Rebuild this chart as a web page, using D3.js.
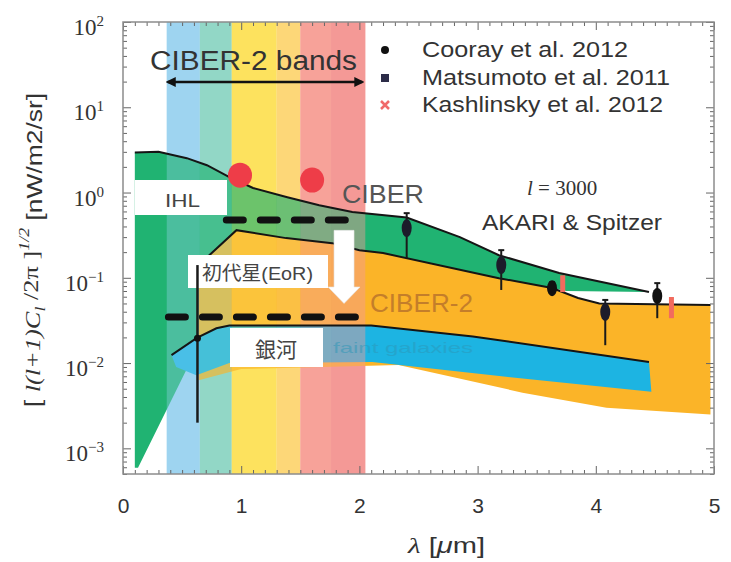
<!DOCTYPE html>
<html>
<head>
<meta charset="utf-8">
<script src="https://cdn.jsdelivr.net/npm/d3@7"></script>
<style>
body { margin: 0; background: #fff; }
svg { display: block; }
</style>
</head>
<body>
<script>
// axis ticks
const lambdaTicks = [0, 1, 2, 3, 4, 5];
const powerTicks = [1e-3, 1e-2, 1e-1, 1, 10, 100];
const powerExp = ["\u22123", "\u22122", "\u22121", "0", "1", "2"];

// CIBER-2 wavelength bands [from, to] in micron
const bandRanges = [[0.37, 0.65], [0.65, 0.92], [0.92, 1.30], [1.30, 1.50], [1.50, 1.76], [1.76, 2.05]];
const bandFill = ["#9fd4f0", "#92d8c6", "#fde25e", "#fdd878", "#f7a29a", "#f59a96"];
const bandTint = [0.35, 0.35, 0.35, 0.35, 0.45, 0.45];

// IHL model (green)
const ihlTop = [[0.10, 2.95], [0.30, 3.0], [0.54, 2.53], [0.71, 2.09], [0.90, 1.52], [1.10, 1.13], [1.39, 0.88],
                [1.66, 0.71], [1.94, 0.59], [2.17, 0.55], [2.40, 0.51], [2.85, 0.30], [3.18, 0.184], [3.69, 0.114], [4.45, 0.068]];
const ihlTail = [[4.45, 0.068], [3.75, 0.070], [3.63, 0.076]];
const ihlLeft = [[0.64, 0.0163], [0.127, 5.9e-4], [0.10, 5.9e-4]];

// first stars / EoR (orange)
const eorTop = [[0.64, 0.141], [0.96, 0.362], [1.38, 0.292], [1.77, 0.255], [2.0, 0.21], [2.2, 0.195], [3.18, 0.099],
                [3.63, 0.076], [3.85, 0.058], [4.03, 0.050], [4.97, 0.048]];
const eorBottom = [[4.97, 0.0025], [4.09, 0.0030], [3.38, 0.0045], [2.33, 0.0095], [1.00, 0.0085], [0.64, 0.0063]];

// faint galaxies (cyan)
const galTop = [[0.41, 0.0124], [0.625, 0.0197], [0.79, 0.0256], [0.90, 0.0275], [2.10, 0.0275], [2.96, 0.0205], [4.45, 0.0103]];
const galBottom = [[4.47, 0.0046], [3.24, 0.0069], [2.11, 0.0103], [0.90, 0.0100], [0.62, 0.0072], [0.45, 0.0090]];

// CIBER / CIBER-2 sensitivity levels and CIBER measurements
const ciberLevel = [[0.874, 0.475], [1.883, 0.475]];
const ciber2Level = [[0.384, 0.0346], [1.99, 0.0346]];
const ciberDots = [[0.99, 1.6], [1.60, 1.4]];

// measurements at l = 3000
const cooray = [{l: 3.63, v: 0.0756, lo: 0.0626, hi: 0.089}, {l: 4.52, v: 0.0612, lo: 0.0336, hi: 0.0866}];
const matsumoto = [{l: 2.40, v: 0.383, lo: 0.17, hi: 0.573}, {l: 3.20, v: 0.141, lo: 0.072, hi: 0.211},
                   {l: 4.08, v: 0.0397, lo: 0.0162, hi: 0.055}];
const kashlinsky = [{l: 3.72, v: 0.0866, lo: 0.068, hi: 0.107}, {l: 4.64, v: 0.0476, lo: 0.0336, hi: 0.0595}];
const opticalPoint = [{l: 0.63, v: 0.0196, lo: 0.002, hi: 0.141}];
const legendNames = ["Cooray et al. 2012", "Matsumoto et al. 2011", "Kashlinsky et al. 2012"];

const svg = d3.select("body").append("svg").attr("width", 731).attr("height", 562);

const x = d3.scaleLinear().domain([0, 5]).range([123, 714]);
const y = d3.scaleLog().domain([5e-4, 100]).range([474, 22]);
const plotTop = y.range()[1], plotBottom = y.range()[0];

const line = d3.line().x(d => x(d[0])).y(d => y(d[1]));
const area = pts => line(pts) + "Z";
const sans = "Liberation Sans, Arial, sans-serif";
const serif = "Liberation Serif, serif";

// bands underneath
svg.append("g").selectAll("rect").data(bandRanges).enter().append("rect")
   .attr("x", d => x(d[0])).attr("width", d => x(d[1]) - x(d[0]))
   .attr("y", plotTop).attr("height", plotBottom - plotTop)
   .style("fill", (d, i) => bandFill[i]);

// model regions
svg.append("path")
   .attr("d", area(ihlTop.concat(ihlTail.slice(1), eorTop.filter(d => d[0] < 3.63).reverse(), ihlLeft)))
   .style("fill", "#20b372");
svg.append("path").attr("d", area(eorTop.concat(eorBottom))).style("fill", "#fbb428");
svg.append("path").attr("d", area(galTop.concat(galBottom))).style("fill", "#1db4e2");

// bands tint the regions
svg.append("g").selectAll("rect").data(bandRanges).enter().append("rect")
   .attr("x", d => x(d[0])).attr("width", d => x(d[1]) - x(d[0]))
   .attr("y", plotTop).attr("height", plotBottom - plotTop)
   .style("fill", (d, i) => bandFill[i])
   .style("opacity", (d, i) => bandTint[i]);

const label = (tx, ty, len, size, color, family) =>
    svg.append("text").attr("x", tx).attr("y", ty).attr("textLength", len).attr("lengthAdjust", "spacingAndGlyphs")
       .style("font-family", family || sans).style("font-size", size + "px").style("fill", color);

label(342, 203, 82, 26, "#555").text("CIBER");
label(370, 312, 103, 25, "#c47e2a").text("CIBER-2");
label(333, 353, 140, 15, "#2c97b8").style("opacity", 0.5).text("faint galaxies");

// model boundary lines
[ihlTop, eorTop, galTop].forEach(pts => {
    svg.append("path").attr("d", line(pts))
       .style("fill", "none").style("stroke", "#151515").style("stroke-width", 2);
});

// sensitivity levels
[ciberLevel, ciber2Level].forEach(pts => {
    svg.append("path").attr("d", line(pts))
       .style("fill", "none").style("stroke", "#111").style("stroke-width", 7)
       .style("stroke-dasharray", "17 17").style("stroke-linecap", "round");
});

svg.selectAll(".ciberdot").data(ciberDots).enter().append("ellipse")
   .attr("class", "ciberdot")
   .attr("cx", d => x(d[0])).attr("cy", d => y(d[1]))
   .attr("rx", 12).attr("ry", 12.5)
   .style("fill", "#ee3d48");

// white arrow from CIBER to CIBER-2 level
const ax = x(1.87), ay0 = y(0.36), ay1 = y(0.078), ay2 = y(0.05);
svg.append("path")
   .attr("d", `M${ax - 10},${ay0}H${ax + 10}V${ay1}H${ax + 16}L${ax},${ay2}L${ax - 16},${ay1}H${ax - 10}Z`)
   .style("fill", "#fff").style("stroke", "#e4e4e4").style("stroke-width", 0.6);

// label boxes
const boxes = [
    {x: 135, y: 180, w: 92, h: 35, t: "IHL", tx: 165, ty: 207, fs: 19, tl: 35},
    {x: 188, y: 255, w: 140, h: 33, t: "初代星(EoR)", tx: 202, ty: 280, fs: 19, tl: 111},
    {x: 230, y: 328, w: 93, h: 39, t: "銀河", tx: 255, ty: 357, fs: 21, tl: 42}
];
boxes.forEach(b => {
    svg.append("rect").attr("x", b.x).attr("y", b.y).attr("width", b.w).attr("height", b.h).style("fill", "#fff");
    label(b.tx, b.ty, b.tl, b.fs, "#444", "Liberation Sans, 'Noto Sans CJK JP', sans-serif").text(b.t);
});

// error bars and points
const bars = (data, color, width) => {
    svg.append("g").selectAll("line").data(data).enter().append("line")
       .attr("x1", d => x(d.l)).attr("x2", d => x(d.l))
       .attr("y1", d => y(d.lo)).attr("y2", d => y(d.hi))
       .style("stroke", color).style("stroke-width", width);
};
bars(opticalPoint, "#1a1a1a", 2.5);
bars(matsumoto, "#1a1a1a", 2);
bars(cooray, "#1a1a1a", 2);
bars(kashlinsky, "#f26b5e", 5);
svg.append("g").selectAll("line").data(cooray.concat(matsumoto)).enter().append("line")
   .attr("x1", d => x(d.l) - 3).attr("x2", d => x(d.l) + 3)
   .attr("y1", d => y(d.hi)).attr("y2", d => y(d.hi))
   .style("stroke", "#1a1a1a").style("stroke-width", 2);
svg.append("g").selectAll("ellipse").data(matsumoto).enter().append("ellipse")
   .attr("cx", d => x(d.l)).attr("cy", d => y(d.v)).attr("rx", 5).attr("ry", 9)
   .style("fill", "#1c1c2a");
svg.append("g").selectAll("ellipse").data(cooray).enter().append("ellipse")
   .attr("cx", d => x(d.l)).attr("cy", d => y(d.v)).attr("rx", 5).attr("ry", 8)
   .style("fill", "#111");
svg.append("g").selectAll("circle").data(opticalPoint).enter().append("circle")
   .attr("cx", d => x(d.l)).attr("cy", d => y(d.v)).attr("r", 3.5)
   .style("fill", "#111");

// CIBER-2 bands annotation
svg.append("defs").append("marker")
   .attr("id", "head").attr("viewBox", "0 0 10 10").attr("refX", 8).attr("refY", 5)
   .attr("markerWidth", 4).attr("markerHeight", 4).attr("orient", "auto-start-reverse")
   .append("path").attr("d", "M0,0L10,5L0,10Z").style("fill", "#111");
svg.append("line")
   .attr("x1", x(bandRanges[0][0]) + 1).attr("x2", x(bandRanges[bandRanges.length - 1][1]) - 3)
   .attr("y1", 82).attr("y2", 82)
   .style("stroke", "#111").style("stroke-width", 2.5)
   .attr("marker-start", "url(#head)").attr("marker-end", "url(#head)");
label(150, 70, 207, 27, "#333").text("CIBER-2  bands");

// legend
const legendY = [50, 78, 105];
svg.append("circle").attr("cx", 385).attr("cy", legendY[0]).attr("r", 4).style("fill", "#111");
svg.append("rect").attr("x", 381).attr("y", legendY[1] - 4).attr("width", 8).attr("height", 8).style("fill", "#2c2c48");
svg.append("path").attr("d", `M381,${legendY[2] - 4}l8,8M389,${legendY[2] - 4}l-8,8`)
   .style("stroke", "#f06a6a").style("stroke-width", 2.5);
const legendLen = [206, 248, 241];
legendNames.forEach((n, i) => label(422, legendY[i] + 7, legendLen[i], 22, "#333").text(n));

const lt = svg.append("text").attr("x", 527).attr("y", 195)
   .style("font-family", serif).style("font-size", "21px").style("fill", "#333");
lt.append("tspan").style("font-style", "italic").text("l");
lt.append("tspan").text(" = 3000");
label(482, 230, 180, 22, "#333").text("AKARI & Spitzer");

// axes
const tickColor = "#666";
const styleAxis = g => {
    g.select(".domain").remove();
    g.selectAll(".tick line").style("stroke", tickColor);
};
const xMinor = d3.range(0, 50).map(i => i / 10).filter(v => v % 1 !== 0);
const yMinor = y.ticks().filter(v => !powerTicks.some(p => Math.abs(p - v) / p < 1e-6));

svg.append("g").attr("transform", `translate(0,${plotBottom})`)
   .call(d3.axisBottom(x).tickValues(xMinor).tickSize(-4).tickFormat("")).call(styleAxis);
svg.append("g").attr("transform", `translate(0,${plotTop})`)
   .call(d3.axisTop(x).tickValues(xMinor).tickSize(-4).tickFormat("")).call(styleAxis);
svg.append("g").attr("transform", `translate(0,${plotTop})`)
   .call(d3.axisTop(x).tickValues(lambdaTicks).tickSize(-8).tickFormat("")).call(styleAxis);
svg.append("g").attr("transform", `translate(${x(0)},0)`)
   .call(d3.axisLeft(y).tickValues(yMinor).tickSize(-4).tickFormat("")).call(styleAxis);
svg.append("g").attr("transform", `translate(${x(5)},0)`)
   .call(d3.axisRight(y).tickValues(yMinor).tickSize(-4).tickFormat("")).call(styleAxis);
svg.append("g").attr("transform", `translate(${x(5)},0)`)
   .call(d3.axisRight(y).tickValues(powerTicks).tickSize(-8).tickFormat("")).call(styleAxis);

const gx = svg.append("g").attr("transform", `translate(0,${plotBottom})`)
   .call(d3.axisBottom(x).tickValues(lambdaTicks).tickSize(-8).tickPadding(24).tickFormat(d3.format("d")))
   .call(styleAxis);
gx.selectAll(".tick text")
  .style("font-family", sans).style("font-size", "21px").style("fill", "#333");

const gy = svg.append("g").attr("transform", `translate(${x(0)},0)`)
   .call(d3.axisLeft(y).tickValues(powerTicks).tickSize(-8).tickPadding(19))
   .call(styleAxis);
gy.selectAll(".tick text")
  .attr("dy", "0.55em")
  .style("font-family", serif).style("font-size", "23px").style("fill", "#333")
  .text(null)
  .each(function(d, i) {
      const t = d3.select(this);
      t.append("tspan").text("10");
      t.append("tspan").attr("dy", "-0.6em").style("font-size", "15px").text(powerExp[i]);
  });

// frame
svg.append("rect").attr("x", x(0)).attr("y", plotTop).attr("width", x(5) - x(0)).attr("height", plotBottom - plotTop)
   .style("fill", "none").style("stroke", "#8c8c8c").style("stroke-width", 1.5);

// axis titles
const xt = label(408, 553, 77, 22, "#333");
xt.append("tspan").style("font-family", serif).style("font-style", "italic").text("λ");
xt.append("tspan").text(" [");
xt.append("tspan").style("font-style", "italic").text("μ");
xt.append("tspan").text("m]");

const yt = svg.append("text").attr("transform", "translate(40,407) rotate(-90)")
   .attr("textLength", 314).attr("lengthAdjust", "spacingAndGlyphs")
   .style("font-family", sans).style("font-size", "22px").style("fill", "#333");
yt.append("tspan").text("[ ");
yt.append("tspan").style("font-family", serif).style("font-style", "italic").text("l(l+1)C");
yt.append("tspan").attr("dy", "0.3em").style("font-size", "15px").style("font-family", serif)
  .style("font-style", "italic").text("l");
yt.append("tspan").attr("dy", "-0.3em").style("font-family", serif).text(" /2π ]");
yt.append("tspan").attr("dy", "-0.6em").style("font-size", "15px").style("font-family", serif)
  .style("font-style", "italic").text("1/2");
yt.append("tspan").attr("dy", "0.6em").text(" [nW/m2/sr]");
</script>
</body>
</html>
